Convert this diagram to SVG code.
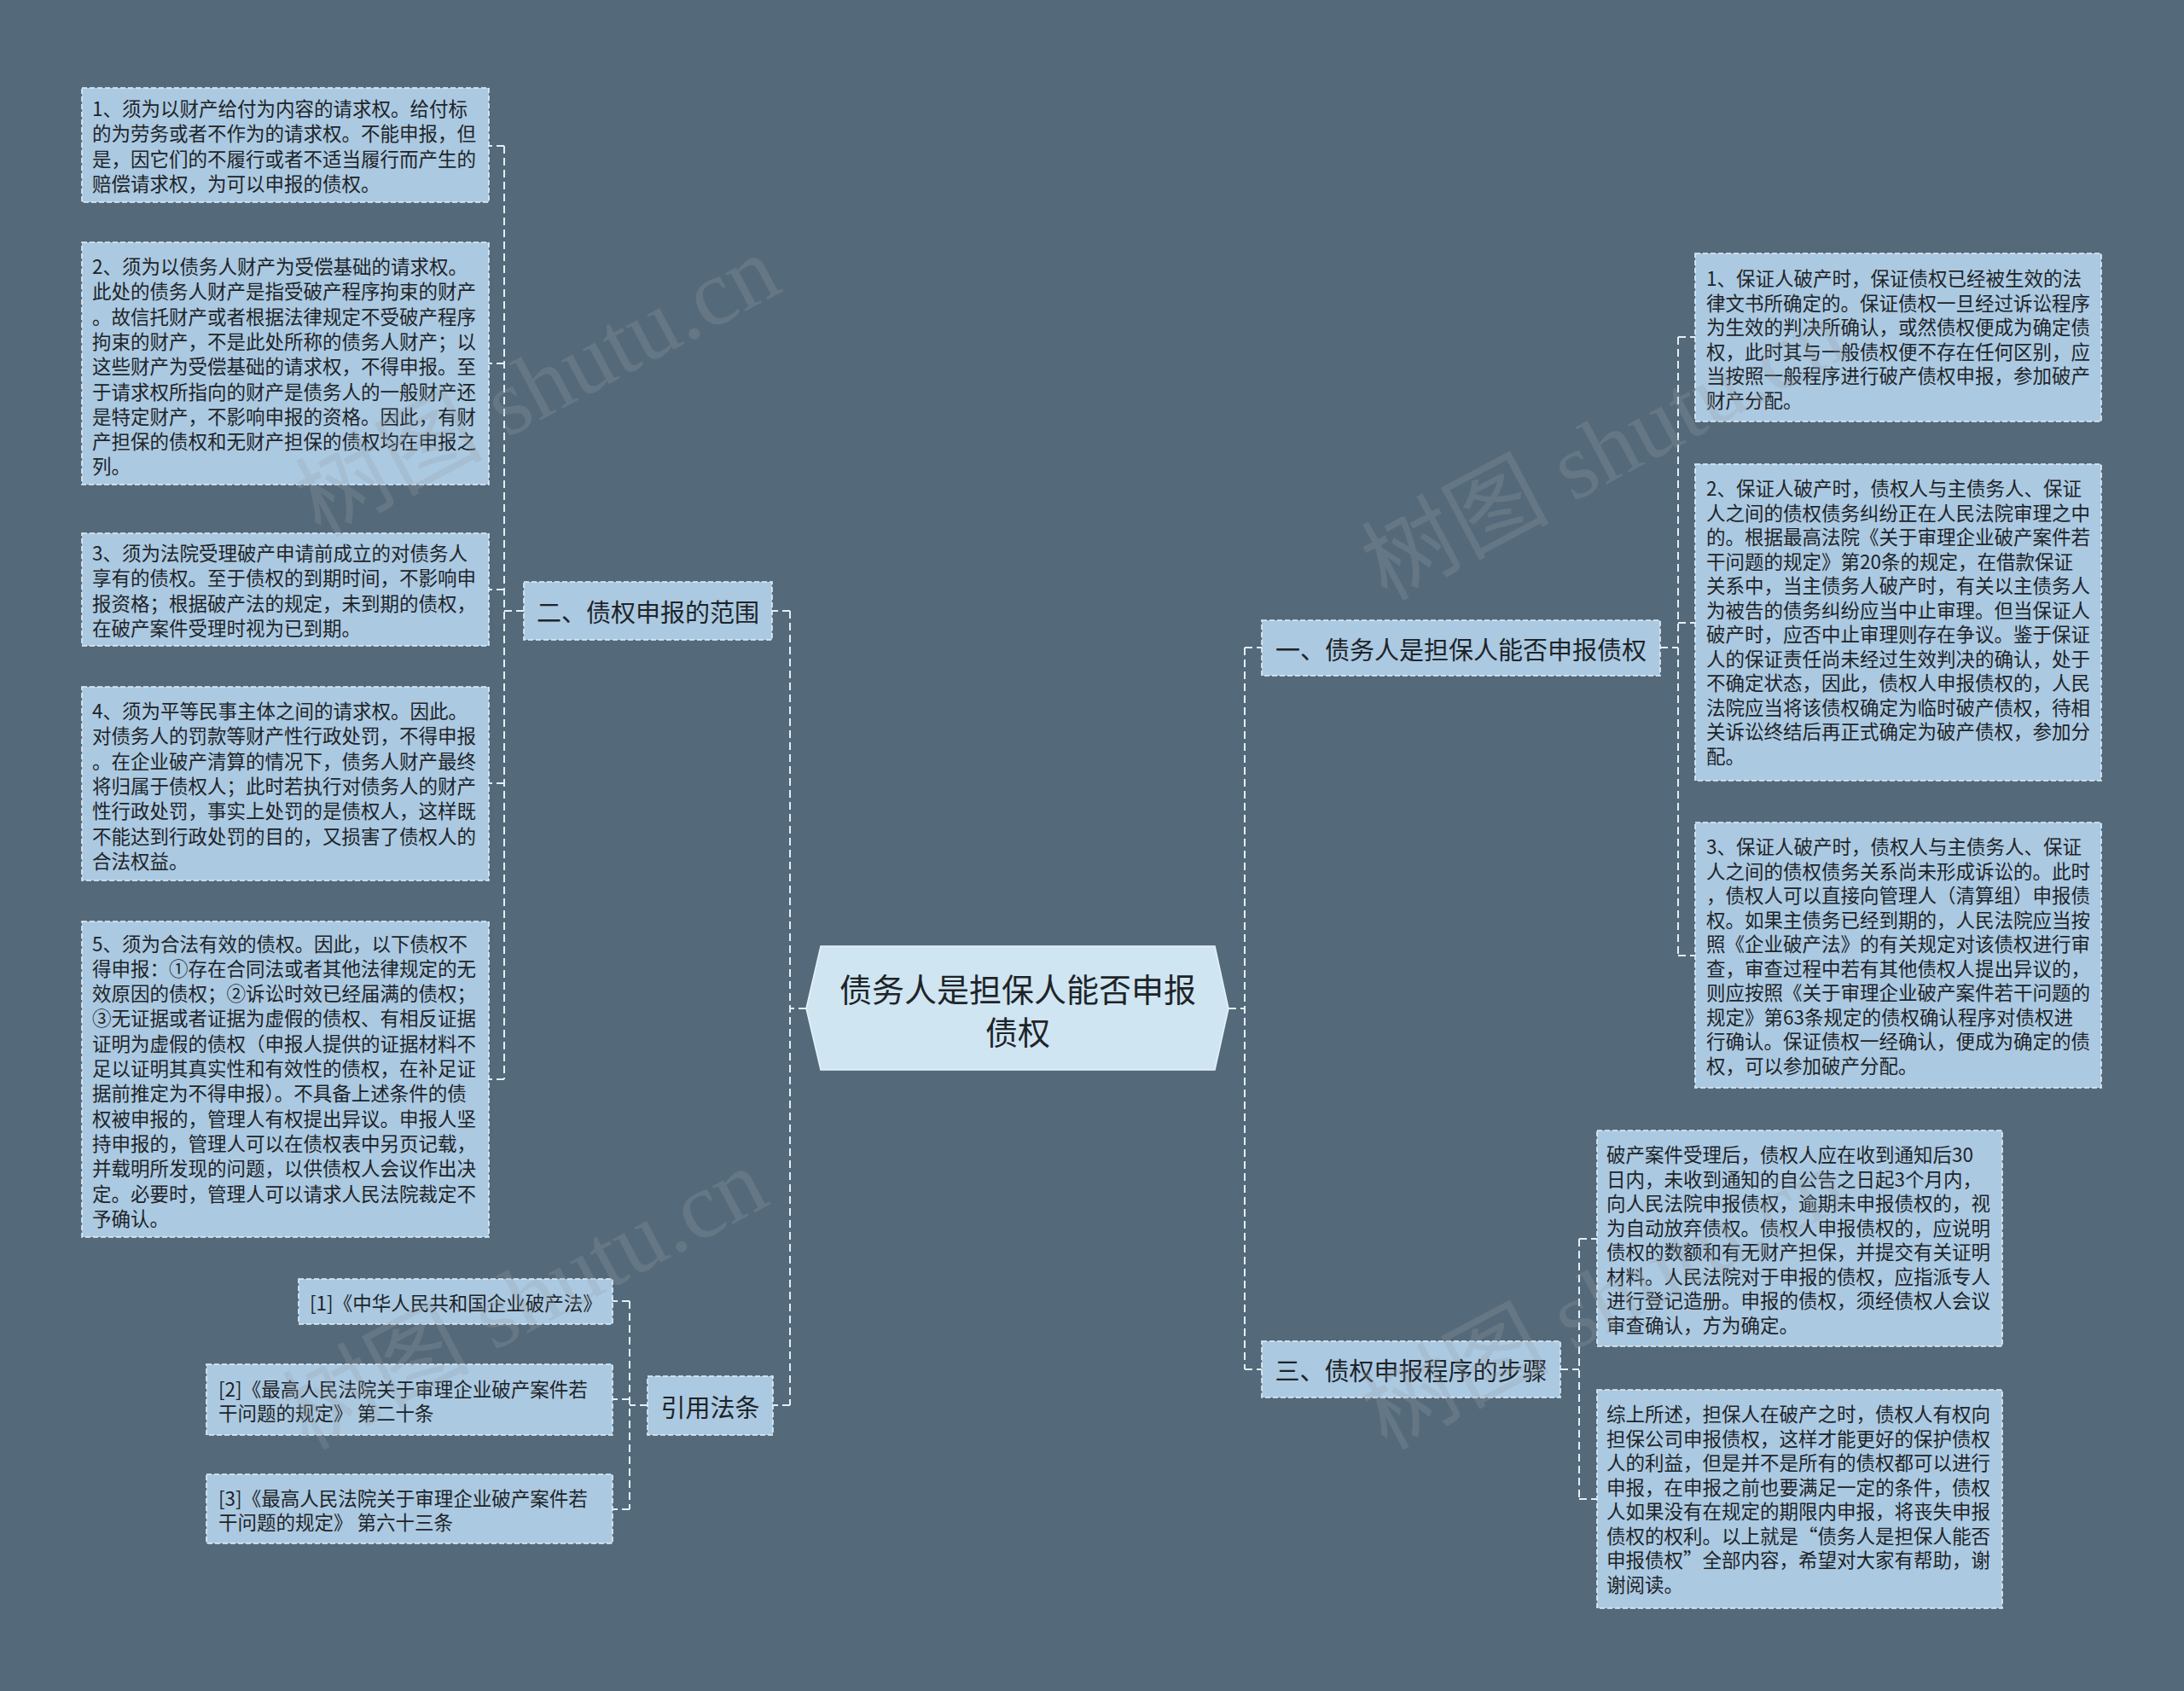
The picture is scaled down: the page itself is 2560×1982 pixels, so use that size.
<svg xmlns="http://www.w3.org/2000/svg" width="2560" height="1982" viewBox="0 0 2560 1982">
<style>
.bg{fill:#546a7a}
.box{fill:#abc9e1;stroke:#e4eef6;stroke-width:1.6;stroke-dasharray:6 3}
.main{fill:#abc9e1;stroke:#e4eef6;stroke-width:1.6;stroke-dasharray:6 3}
.center{fill:#cfe5f2;stroke:#e8f2f8;stroke-width:1.5}
.t{font-family:"Noto Sans CJK SC","Noto Sans",sans-serif;font-size:22.5px;fill:#1e2428;dominant-baseline:central}
.mt{font-family:"Noto Sans CJK SC","Noto Sans",sans-serif;font-size:29px;fill:#1e2428;dominant-baseline:central;text-anchor:middle}
.ct{font-family:"Noto Sans CJK SC","Noto Sans",sans-serif;font-size:38px;fill:#1e2428;dominant-baseline:central;text-anchor:middle}
.conn{fill:none;stroke:#e4eef6;stroke-width:2;stroke-dasharray:9 5}
.wm{font-family:"Liberation Serif","Noto Sans CJK SC",serif;font-size:110px;fill:#9aa0a6;opacity:0.25}
</style>
<rect class="bg" x="0" y="0" width="2560" height="1982"/>

<g id="connectors">
<path class="conn" d="M945 1182 H926 M926 716 V1647 M926 716 H905 M926 1647 H906"/>
<path class="conn" d="M1440 1182 H1459 M1459 759 V1605 M1459 759 H1479 M1459 1605 H1479"/>
<path class="conn" d="M614 716 H591 M591 171 V1265 M591 171 H573 M591 426 H573 M591 691 H573 M591 918 H573 M591 1265 H573"/>
<path class="conn" d="M759 1647 H738 M738 1525 V1769 M738 1525 H718 M738 1640 H718 M738 1769 H718"/>
<path class="conn" d="M1946 759 H1967 M1967 395 V1120 M1967 395 H1987 M1967 730 H1987 M1967 1120 H1987"/>
<path class="conn" d="M1829 1605 H1851 M1851 1452 V1757 M1851 1452 H1872 M1851 1757 H1872"/>
</g>

<g id="center">
<polygon class="center" points="945,1182 962,1109 1424,1109 1440,1182 1424,1254 962,1254"/>
<text class="ct" x="1193" y="1157">债务人是担保人能否申报</text>
<text class="ct" x="1193" y="1207">债权</text>
</g>

<g id="b1">
<rect class="main" x="1479" y="727" width="467" height="65"/>
<text class="mt" x="1712.5" y="759.5">一、债务人是担保人能否申报债权</text>
</g>
<g id="b3">
<rect class="main" x="1479" y="1572" width="350" height="66"/>
<text class="mt" x="1654" y="1605">三、债权申报程序的步骤</text>
</g>
<g id="b2">
<rect class="main" x="614" y="682" width="291" height="68"/>
<text class="mt" x="759.5" y="716">二、债权申报的范围</text>
</g>
<g id="b4">
<rect class="main" x="759" y="1613" width="147" height="69"/>
<text class="mt" x="832.5" y="1647.5">引用法条</text>
</g>

<g id="l1">
<rect class="box" x="96" y="103" width="477" height="134"/>
<text class="t" x="108"><tspan x="108" y="126">1、须为以财产给付为内容的请求权。给付标</tspan><tspan x="108" y="155.3">的为劳务或者不作为的请求权。不能申报，但</tspan><tspan x="108" y="184.6">是，因它们的不履行或者不适当履行而产生的</tspan><tspan x="108" y="213.9">赔偿请求权，为可以申报的债权。</tspan></text>
</g>
<g id="l2">
<rect class="box" x="96" y="284" width="477" height="284"/>
<text class="t"><tspan x="108" y="311">2、须为以债务人财产为受偿基础的请求权。</tspan><tspan x="108" y="340.3">此处的债务人财产是指受破产程序拘束的财产</tspan><tspan x="108" y="369.6">。故信托财产或者根据法律规定不受破产程序</tspan><tspan x="108" y="398.9">拘束的财产，不是此处所称的债务人财产；以</tspan><tspan x="108" y="428.2">这些财产为受偿基础的请求权，不得申报。至</tspan><tspan x="108" y="457.5">于请求权所指向的财产是债务人的一般财产还</tspan><tspan x="108" y="486.8">是特定财产，不影响申报的资格。因此，有财</tspan><tspan x="108" y="516.1">产担保的债权和无财产担保的债权均在申报之</tspan><tspan x="108" y="545.4">列。</tspan></text>
</g>
<g id="l3">
<rect class="box" x="96" y="625" width="477" height="132"/>
<text class="t"><tspan x="108" y="647">3、须为法院受理破产申请前成立的对债务人</tspan><tspan x="108" y="676.3">享有的债权。至于债权的到期时间，不影响申</tspan><tspan x="108" y="705.6">报资格；根据破产法的规定，未到期的债权，</tspan><tspan x="108" y="734.9">在破产案件受理时视为已到期。</tspan></text>
</g>
<g id="l4">
<rect class="box" x="96" y="805" width="477" height="227"/>
<text class="t"><tspan x="108" y="832">4、须为平等民事主体之间的请求权。因此。</tspan><tspan x="108" y="861.3">对债务人的罚款等财产性行政处罚，不得申报</tspan><tspan x="108" y="890.6">。在企业破产清算的情况下，债务人财产最终</tspan><tspan x="108" y="919.9">将归属于债权人；此时若执行对债务人的财产</tspan><tspan x="108" y="949.2">性行政处罚，事实上处罚的是债权人，这样既</tspan><tspan x="108" y="978.5">不能达到行政处罚的目的，又损害了债权人的</tspan><tspan x="108" y="1007.8">合法权益。</tspan></text>
</g>
<g id="l5">
<rect class="box" x="96" y="1080" width="477" height="370"/>
<text class="t"><tspan x="108" y="1104.5">5、须为合法有效的债权。因此，以下债权不</tspan><tspan x="108" y="1133.8">得申报：①存在合同法或者其他法律规定的无</tspan><tspan x="108" y="1163.1">效原因的债权；②诉讼时效已经届满的债权；</tspan><tspan x="108" y="1192.4">③无证据或者证据为虚假的债权、有相反证据</tspan><tspan x="108" y="1221.7">证明为虚假的债权（申报人提供的证据材料不</tspan><tspan x="108" y="1251">足以证明其真实性和有效性的债权，在补足证</tspan><tspan x="108" y="1280.3">据前推定为不得申报）。不具备上述条件的债</tspan><tspan x="108" y="1309.6">权被申报的，管理人有权提出异议。申报人坚</tspan><tspan x="108" y="1338.9">持申报的，管理人可以在债权表中另页记载，</tspan><tspan x="108" y="1368.2">并载明所发现的问题，以供债权人会议作出决</tspan><tspan x="108" y="1397.5">定。必要时，管理人可以请求人民法院裁定不</tspan><tspan x="108" y="1426.8">予确认。</tspan></text>
</g>

<g id="c1">
<rect class="box" x="350" y="1499" width="368" height="53"/>
<text class="t" x="363" y="1526">[1]《中华人民共和国企业破产法》</text>
</g>
<g id="c2">
<rect class="box" x="242" y="1599" width="476" height="83"/>
<text class="t"><tspan x="256" y="1627">[2]《最高人民法院关于审理企业破产案件若</tspan><tspan x="256" y="1655">干问题的规定》 第二十条</tspan></text>
</g>
<g id="c3">
<rect class="box" x="242" y="1728" width="476" height="81"/>
<text class="t"><tspan x="256" y="1755">[3]《最高人民法院关于审理企业破产案件若</tspan><tspan x="256" y="1783">干问题的规定》 第六十三条</tspan></text>
</g>

<g id="r1">
<rect class="box" x="1987" y="297" width="476" height="197"/>
<text class="t"><tspan x="2000" y="325">1、保证人破产时，保证债权已经被生效的法</tspan><tspan x="2000" y="353.5">律文书所确定的。保证债权一旦经过诉讼程序</tspan><tspan x="2000" y="382">为生效的判决所确认，或然债权便成为确定债</tspan><tspan x="2000" y="410.5">权，此时其与一般债权便不存在任何区别，应</tspan><tspan x="2000" y="439">当按照一般程序进行破产债权申报，参加破产</tspan><tspan x="2000" y="467.5">财产分配。</tspan></text>
</g>
<g id="r2">
<rect class="box" x="1987" y="544" width="476" height="371"/>
<text class="t"><tspan x="2000" y="571">2、保证人破产时，债权人与主债务人、保证</tspan><tspan x="2000" y="599.5">人之间的债权债务纠纷正在人民法院审理之中</tspan><tspan x="2000" y="628">的。根据最高法院《关于审理企业破产案件若</tspan><tspan x="2000" y="656.5">干问题的规定》第20条的规定，在借款保证</tspan><tspan x="2000" y="685">关系中，当主债务人破产时，有关以主债务人</tspan><tspan x="2000" y="713.5">为被告的债务纠纷应当中止审理。但当保证人</tspan><tspan x="2000" y="742">破产时，应否中止审理则存在争议。鉴于保证</tspan><tspan x="2000" y="770.5">人的保证责任尚未经过生效判决的确认，处于</tspan><tspan x="2000" y="799">不确定状态，因此，债权人申报债权的，人民</tspan><tspan x="2000" y="827.5">法院应当将该债权确定为临时破产债权，待相</tspan><tspan x="2000" y="856">关诉讼终结后再正式确定为破产债权，参加分</tspan><tspan x="2000" y="884.5">配。</tspan></text>
</g>
<g id="r3">
<rect class="box" x="1987" y="964" width="476" height="311"/>
<text class="t"><tspan x="2000" y="991">3、保证人破产时，债权人与主债务人、保证</tspan><tspan x="2000" y="1019.5">人之间的债权债务关系尚未形成诉讼的。此时</tspan><tspan x="2000" y="1048">，债权人可以直接向管理人（清算组）申报债</tspan><tspan x="2000" y="1076.5">权。如果主债务已经到期的，人民法院应当按</tspan><tspan x="2000" y="1105">照《企业破产法》的有关规定对该债权进行审</tspan><tspan x="2000" y="1133.5">查，审查过程中若有其他债权人提出异议的，</tspan><tspan x="2000" y="1162">则应按照《关于审理企业破产案件若干问题的</tspan><tspan x="2000" y="1190.5">规定》第63条规定的债权确认程序对债权进</tspan><tspan x="2000" y="1219">行确认。保证债权一经确认，便成为确定的债</tspan><tspan x="2000" y="1247.5">权，可以参加破产分配。</tspan></text>
</g>
<g id="r4">
<rect class="box" x="1872" y="1325" width="475" height="253"/>
<text class="t"><tspan x="1883" y="1352">破产案件受理后，债权人应在收到通知后30</tspan><tspan x="1883" y="1380.5">日内，未收到通知的自公告之日起3个月内，</tspan><tspan x="1883" y="1409">向人民法院申报债权，逾期未申报债权的，视</tspan><tspan x="1883" y="1437.5">为自动放弃债权。债权人申报债权的，应说明</tspan><tspan x="1883" y="1466">债权的数额和有无财产担保，并提交有关证明</tspan><tspan x="1883" y="1494.5">材料。人民法院对于申报的债权，应指派专人</tspan><tspan x="1883" y="1523">进行登记造册。申报的债权，须经债权人会议</tspan><tspan x="1883" y="1551.5">审查确认，方为确定。</tspan></text>
</g>
<g id="r5">
<rect class="box" x="1872" y="1629" width="475" height="256"/>
<text class="t"><tspan x="1883" y="1656">综上所述，担保人在破产之时，债权人有权向</tspan><tspan x="1883" y="1684.5">担保公司申报债权，这样才能更好的保护债权</tspan><tspan x="1883" y="1713">人的利益，但是并不是所有的债权都可以进行</tspan><tspan x="1883" y="1741.5">申报，在申报之前也要满足一定的条件，债权</tspan><tspan x="1883" y="1770">人如果没有在规定的期限内申报，将丧失申报</tspan><tspan x="1883" y="1798.5">债权的权利。以上就是“债务人是担保人能否</tspan><tspan x="1883" y="1827">申报债权”全部内容，希望对大家有帮助，谢</tspan><tspan x="1883" y="1855.5">谢阅读。</tspan></text>
</g>

<g id="watermarks">
<text class="wm" x="375" y="630" transform="rotate(-28 375 630)">树图 shutu.cn</text>
<text class="wm" x="360" y="1700" transform="rotate(-28 360 1700)">树图 shutu.cn</text>
<text class="wm" x="1625" y="705" transform="rotate(-28 1625 705)">树图 shutu.cn</text>
<text class="wm" x="1625" y="1700" transform="rotate(-28 1625 1700)">树图 shutu.cn</text>
</g>
</svg>
